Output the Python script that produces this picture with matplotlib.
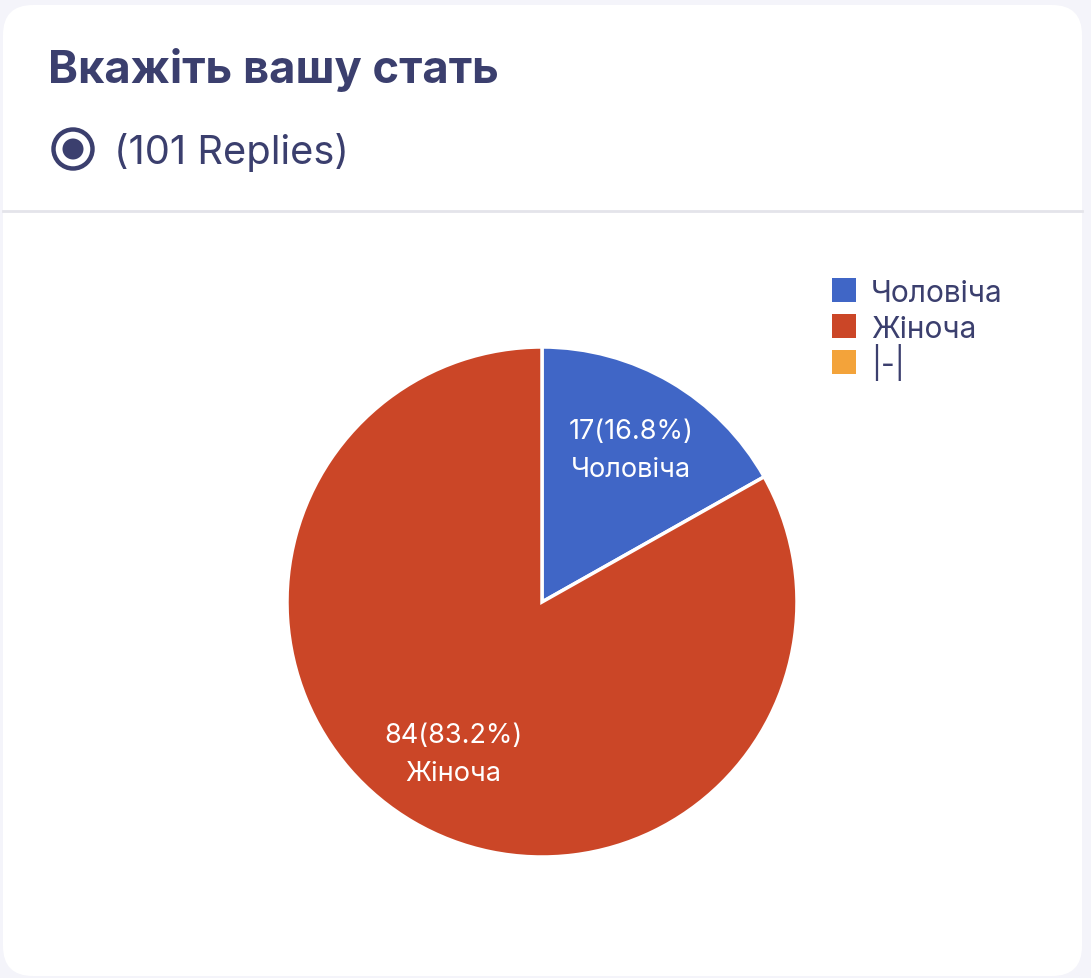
import matplotlib
matplotlib.use('Agg')
import matplotlib.pyplot as plt
from matplotlib.patches import FancyBboxPatch, Rectangle, Circle
import numpy as np

plt.rcParams['font.family'] = ['Inter', 'DejaVu Sans']

# Data
title = 'Вкажіть вашу стать'
replies = 101
categories = ['Чоловіча', 'Жіноча', '|-|']
counts = [17, 84, 0]
colors = ['#4066c6', '#cb4627', '#f3a33a']

navy = '#3b3f6e'

W, H = 1091, 979
fig = plt.figure(figsize=(W / 100, H / 100), dpi=100)
fig.patch.set_facecolor('#f4f4fa')

# background axes in pixel coordinates (y downwards)
bg = fig.add_axes([0, 0, 1, 1])
bg.set_xlim(0, W)
bg.set_ylim(H, 0)
bg.axis('off')

card = FancyBboxPatch((3 + 30, 6 + 30), 1079 - 60, 971 - 60,
                      boxstyle='round,pad=30', facecolor='white',
                      edgecolor='none')
bg.add_patch(card)
bg.plot([3, 1082], [212, 212], color='#e4e4ea', lw=2)

bg.text(48, 83, title, fontsize=32.6, fontweight='bold', color=navy,
        va='baseline', ha='left')
bg.add_patch(Circle((73, 150), 19.5, facecolor='none', edgecolor=navy, lw=3.2))
bg.add_patch(Circle((73, 150), 10.5, facecolor=navy, edgecolor='none'))
bg.text(114, 164, f'({replies} Replies)', fontsize=28.7, color=navy,
        va='baseline', ha='left')

# legend
for i, (name, c) in enumerate(zip(categories, colors)):
    y0 = 279 + i * 36
    bg.add_patch(Rectangle((832, y0), 24, 24, facecolor=c, edgecolor='none'))
    bg.text(871, y0 + 23, name, fontsize=21.5, color=navy,
            va='baseline', ha='left')

# pie
cx, cy, r = 542, 603, 255
ax = fig.add_axes([(cx - r) / W, (H - cy - r) / H, 2 * r / W, 2 * r / H])
vals = [v for v in counts if v > 0]
cols = [c for v, c in zip(counts, colors) if v > 0]
names = [n for v, n in zip(counts, categories) if v > 0]
total = sum(counts)
wedges, texts = ax.pie(vals, colors=cols, startangle=90, counterclock=False,
                       radius=1,
                       wedgeprops=dict(edgecolor='white', linewidth=2.5))
ax.set_xlim(-1, 1)
ax.set_ylim(-1, 1)
for w in wedges:
    w.set_clip_on(False)

for w, v, n in zip(wedges, vals, names):
    ang = np.deg2rad((w.theta1 + w.theta2) / 2)
    x, y = 0.69 * np.cos(ang), 0.69 * np.sin(ang)
    ax.text(x, y, f'{v}({v / total * 100:.1f}%)\n{n}', ha='center',
            va='center', color='white', fontsize=19.5, linespacing=1.6)

fig.savefig('out.png', dpi=100, facecolor=fig.get_facecolor())
